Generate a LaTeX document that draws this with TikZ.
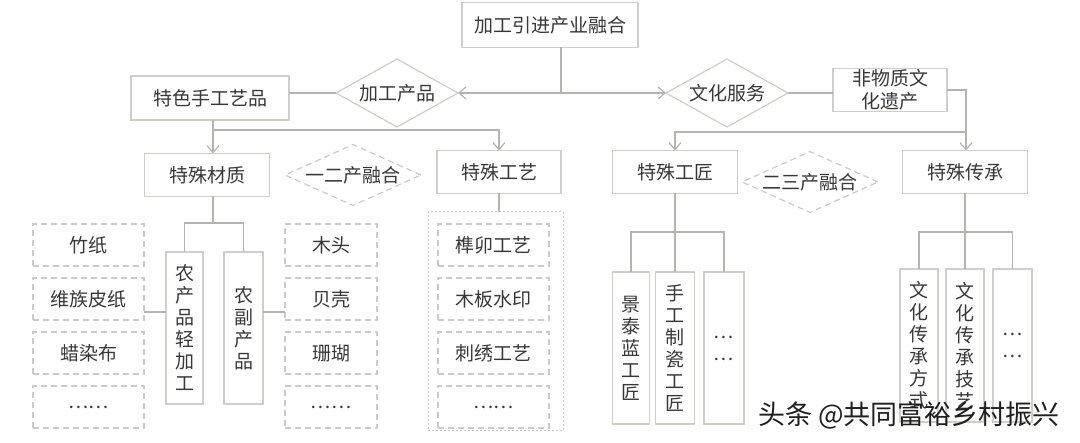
\documentclass[tikz,border=0pt]{standalone}
\usepackage{fontspec}
\setmainfont{Noto Sans CJK SC}
\usetikzlibrary{shapes.geometric,positioning,arrows.meta}

\definecolor{boxline}{HTML}{CFCFC8}
\definecolor{connline}{HTML}{B4B4B0}
\definecolor{dashline}{HTML}{CBCBCB}
\definecolor{labeltext}{HTML}{383838}

\newcommand{\lblfont}{\fontsize{19}{22}\selectfont}

\begin{document}
\begin{tikzpicture}[
    x=1pt, y=-1pt,
    node distance=12pt and 12pt,
    font=\lblfont,
    text=labeltext,
    >={Straight Barb[length=7pt,width=12pt]},
    every node/.style={inner sep=0pt, outer sep=0pt},
    box/.style={draw=boxline, line width=1.2pt, fill=white, minimum height=43pt},
    dashbox/.style={box, draw=dashline, dash pattern=on 6pt off 4pt},
    colbox/.style={dashbox, minimum height=42pt},
    vbox/.style={box, align=center, minimum height=152pt},
    choice/.style={diamond, aspect=2.2, draw=boxline, line width=1.2pt, fill=white},
    dashchoice/.style={choice, draw=dashline, dash pattern=on 6pt off 4pt},
    link/.style={draw=connline, line width=1.2pt}
  ]

  \useasboundingbox (0,0) rectangle (1080,443);

  % top level
  \node [box, minimum width=176pt, minimum height=45pt] (top) at (550,25) {加工引进产业融合};
  \node [choice, minimum width=122pt, minimum height=68pt] (jggp) at (397,93) {加工产品};
  \node [choice, minimum width=122pt, minimum height=68pt] (whfw) at (727,93) {文化服务};
  \node [box, minimum width=158pt, minimum height=44pt] (tssgy) at (210,98) {特色手工艺品};
  \node [box, minimum width=114pt, align=center, font=\fontsize{19}{23}\selectfont] (fwzwh) at (890,90) {非物质文\\化遗产};

  % second level
  \node [box, minimum width=125pt] (tscz) at (207,175) {特殊材质};
  \node [dashchoice, minimum width=136pt, minimum height=60pt] (yerh) at (353,175) {一二产融合};
  \node [box, minimum width=124pt] (tsgy) at (499,172) {特殊工艺};
  \node [box, minimum width=125pt] (tsgj) at (675,172) {特殊工匠};
  \node [dashchoice, minimum width=136pt, minimum height=60pt] (ersh) at (810,182) {二三产融合};
  \node [box, minimum width=125pt] (tscc) at (965,172) {特殊传承};

  % materials
  \node [colbox, minimum width=111pt] (zz) at (88.5,245) {竹纸};
  \node [colbox, minimum width=111pt] (wzpz) [below=of zz] {维族皮纸};
  \node [colbox, minimum width=111pt] (lrb) [below=of wzpz] {蜡染布};
  \node [colbox, minimum width=111pt] (czmore) [below=of lrb] {……};

  \node [vbox, minimum width=37pt] (ncp) at (184.5,328) {农\\产\\品\\轻\\加\\工};
  \node [vbox, minimum width=39pt] (nfcp) at (243.5,328) {农\\副\\产\\品};

  \node [colbox, minimum width=92pt] (mt) at (331,245) {木头};
  \node [colbox, minimum width=92pt] (bk) [below=of mt] {贝壳};
  \node [colbox, minimum width=92pt] (sh) [below=of bk] {珊瑚};
  \node [colbox, minimum width=92pt] (nfmore) [below=of sh] {……};

  % crafts
  \node [draw=dashline, dash pattern=on 2pt off 2pt, line width=1pt, minimum width=135pt, minimum height=219pt] (gylist) at (495.5,321.5) {};
  \node [colbox, minimum width=111pt] (smgy) at (493.5,245) {榫卯工艺};
  \node [colbox, minimum width=111pt] (mbsy) [below=of smgy] {木板水印};
  \node [colbox, minimum width=111pt] (cxgy) [below=of mbsy] {刺绣工艺};
  \node [colbox, minimum width=111pt] (gymore) [below=of cxgy] {……};

  % craftsmen
  \node [vbox, minimum width=37pt] (jtl) at (631,348) {景\\泰\\蓝\\工\\匠};
  \node [vbox, minimum width=39pt] (sgzc) at (675,348) {手\\工\\制\\瓷\\工\\匠};
  \node [vbox, minimum width=40pt] (gjmore) at (724,348) {…\\…};

  % heritage
  \node [vbox, minimum width=38pt, minimum height=153pt] (whfs) at (919,345.5) {文\\化\\传\\承\\方\\式};
  \node [vbox, minimum width=38pt, minimum height=153pt] (whjy) at (965,345.5) {文\\化\\传\\承\\技\\艺};
  \node [vbox, minimum width=39pt, minimum height=153pt] (ccmore) at (1012.5,345.5) {…\\…};

  % connectors
  \coordinate (topj) at (561,93);
  \draw [link] (top.south -| topj) -- (topj);
  \draw [link, <->] (jggp.east) -- (whfw.west);
  \draw [link] (tssgy.east |- jggp.west) -- (jggp.west);
  \draw [link] (whfw.east) -- (whfw.east -| fwzwh.west);

  \coordinate (lj) at (213,130);
  \draw [link] (tssgy.south -| lj) -- (lj);
  \draw [link, ->] (lj) -- (lj |- tscz.north);
  \draw [link, ->] (lj) -| (tsgy.north);

  \coordinate (rj) at (966,132);
  \draw [link, ->] (fwzwh.east) -| (rj |- tscc.north);
  \draw [link, ->] (rj) -| (tsgj.north);

  \coordinate (mj) at (213,223);
  \draw [link] (tscz.south -| mj) -- (mj);
  \draw [link] (ncp.north) |- (mj) -| (nfcp.north);
  \draw [link] ([yshift=16pt]ncp.west) -- ([yshift=16pt]ncp.west -| zz.east);
  \draw [link] ([yshift=16pt]nfcp.east) -- ([yshift=16pt]nfcp.east -| mt.west);

  \draw [link] (tsgy.south) -- (tsgy.south |- gylist.north);

  \coordinate (gj) at (675,232);
  \draw [link] (tsgj.south) -- (sgzc.north);
  \draw [link] (jtl.north) |- (gj) -| (gjmore.north);

  \coordinate (cj) at (965,232);
  \draw [link] (tscc.south) -- (whjy.north);
  \draw [link] (whfs.north) |- (cj) -| (ccmore.north);

  % watermark
  \node [anchor=west, font=\fontsize{27}{30}\selectfont, text=black!88] (mark) at (758,415) {头条 @共同富裕乡村振兴};

\end{tikzpicture}
\end{document}
